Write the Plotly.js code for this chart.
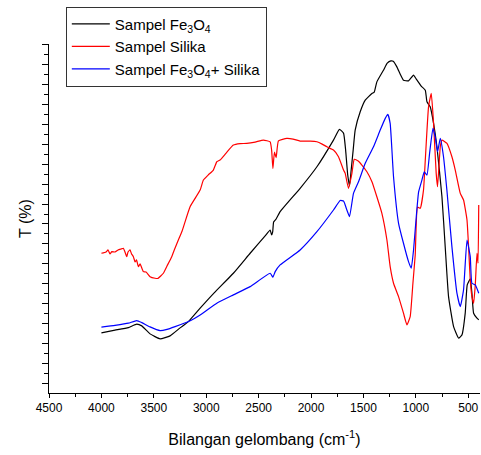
<!DOCTYPE html>
<html>
<head>
<meta charset="utf-8">
<script src="https://cdn.plot.ly/plotly-3.0.1.min.js"></script>
<style>html,body{margin:0;padding:0;background:#fff;}#chart{width:481px;height:455px;}</style>
</head>
<body>
<div id="chart"></div>
<script>
// Wavenumber (cm-1) and transmittance (arbitrary units, y axis unlabeled)
const fe3o4Wave = [4000,3870,3743,3663,3615,3536,3440,3345,3249,3170,3058,2922,2741,2581,2438,2390,2376,2366,2357,2333,2295,2104,1944,1786,1729,1690,1670,1650,1633,1617,1598,1579,1531,1483,1419,1397,1372,1309,1273,1238,1216,1181,1149,1118,1070,1022,996,977,949,910,894,863,831,799,751,720,688,640,592,560,529,510,481,465,449,417,400];
const fe3o4T = [5.2,5.47,5.73,6.07,5.9,5.1,4.6,4.9,5.7,6.33,7.67,9.23,11.17,13.17,14.9,15.5,15.0,15.3,16.3,16.6,17.33,19.67,21.83,24.5,25.57,25.2,23.5,21.0,19.9,21.5,23.5,25.5,27.33,28.5,29.17,29.3,30.33,31.5,32.2,32.43,32.4,31.83,31.1,30.5,30.43,31.0,30.6,30.33,29.9,29.5,28.33,27.83,26.17,23.83,18.83,13.83,8.83,5.83,4.67,5.0,7.17,10.0,10.6,9.17,7.17,6.67,6.5];

const silikaWave = [4000,3956,3937,3918,3901,3870,3841,3813,3791,3775,3758,3746,3727,3712,3695,3679,3665,3647,3631,3600,3574,3536,3488,3460,3409,3374,3329,3297,3266,3230,3154,3058,3027,2982,2932,2899,2868,2810,2741,2677,2613,2533,2454,2390,2376,2364,2349,2333,2311,2231,2171,2104,2008,1944,1894,1849,1786,1738,1690,1674,1643,1610,1588,1550,1515,1467,1419,1372,1324,1276,1245,1213,1165,1118,1085,1054,1028,1006,984,958,927,910,879,853,831,806,793,767,751,703,656,624,576,545,512,497,481,465,449,433,417,407,400];
const silikaT = [13.17,13.3,13.5,13.1,13.33,13.3,13.5,13.6,13.67,13.3,12.83,13.3,13.5,13.1,12.83,12.3,12.5,11.83,12.1,11.33,11.3,10.83,10.67,10.65,11.17,11.9,12.83,13.7,14.5,15.4,17.83,19.5,20.5,21.0,21.5,22.33,22.5,23.2,24.0,24.15,24.17,24.3,24.5,24.33,23.5,21.67,23.3,22.75,24.43,24.67,24.6,24.4,24.4,24.33,24.1,23.83,23.5,22.83,21.5,21.17,19.67,21.17,22.57,22.4,22.0,21.33,20.33,18.83,17.17,14.5,11.83,10.17,8.83,7.17,6.0,6.83,10.17,13.0,17.8,17.67,19.5,22.5,27.83,29.17,26.17,21.17,19.83,23.83,24.5,24.17,22.83,21.5,19.17,18.5,16.5,13.83,10.5,8.83,8.17,10.0,13.17,12.17,18.0];

const compWave = [4000,3870,3743,3663,3615,3536,3440,3374,3297,3170,3058,2899,2741,2581,2390,2364,2342,2295,2104,1944,1786,1722,1690,1658,1633,1595,1547,1483,1404,1340,1292,1267,1245,1213,1165,1118,1070,1044,1022,996,974,942,920,894,869,837,815,793,767,736,704,656,608,576,545,512,481,465,433,400];
const compT = [5.77,5.95,6.17,6.43,6.23,5.8,5.43,5.55,5.83,6.33,7.0,8.17,9.0,9.83,11.17,10.77,11.33,12.0,13.5,15.33,17.5,18.45,18.4,17.5,16.83,19.17,20.33,22.17,23.83,25.5,26.67,27.07,26.17,20.83,16.17,14.17,12.33,11.67,13.5,16.83,19.3,20.5,21.33,21.0,23.17,25.67,24.83,23.33,24.67,22.83,19.5,13.83,9.17,7.83,9.5,14.5,12.83,10.17,10.0,9.17];

const seriesNames = ["Sampel Fe<sub>3</sub>O<sub>4</sub>", "Sampel Silika", "Sampel Fe<sub>3</sub>O<sub>4</sub>+ Silika"];
const xTickVals = [4500,4000,3500,3000,2500,2000,1500,1000,500];
const xTickText = ["4500","4000","3500","3000","2500","2000","1500","1000","500"];

const font = "Liberation Sans, Arial, sans-serif";
const mk = (x, y, name, color) => ({
  x: x, y: y, name: name, type: "scatter", mode: "lines",
  line: {color: color, width: 1.2, shape: "spline", smoothing: 0.4}
});

const data = [
  mk(fe3o4Wave, fe3o4T, seriesNames[0], "#000000"),
  mk(silikaWave, silikaT, seriesNames[1], "#ff0000"),
  mk(compWave, compT, seriesNames[2], "#0000ff")
];

const layout = {
  width: 481, height: 455,
  margin: {l: 49, r: 1, t: 44, b: 62, pad: 0},
  paper_bgcolor: "#ffffff", plot_bgcolor: "#ffffff",
  font: {family: font, color: "#000000", size: 12},
  showlegend: true,
  legend: {
    x: 0.039, y: 1.107, xanchor: "left", yanchor: "top",
    bordercolor: "#333333", borderwidth: 1, bgcolor: "#ffffff",
    font: {family: font, size: 15, color: "#000000"},
    itemwidth: 38
  },
  xaxis: {
    range: [4500, 388],
    tickmode: "array", tickvals: xTickVals, ticktext: xTickText,
    ticks: "outside", ticklen: 4, tickwidth: 1, tickcolor: "#000",
    minor: {dtick: 250, tick0: 0, ticks: "outside", ticklen: 3, tickcolor: "#000", showgrid: false},
    showline: true, linecolor: "#000", linewidth: 1,
    showgrid: false, zeroline: false,
    tickfont: {family: font, size: 12, color: "#000"},
    title: {text: "Bilangan gelombang (cm<sup>-1</sup>)", font: {family: font, size: 16, color: "#000"}, standoff: 19}
  },
  yaxis: {
    range: [-0.82, 34.12],
    tick0: 0.1, dtick: 2,
    ticks: "outside", ticklen: 6, tickwidth: 1, tickcolor: "#000",
    minor: {dtick: 1, tick0: 0.1, ticks: "outside", ticklen: 4, tickcolor: "#000", showgrid: false},
    showticklabels: false,
    showline: true, linecolor: "#000", linewidth: 1,
    showgrid: false, zeroline: false,
    title: {text: "T (%)", font: {family: font, size: 16, color: "#000"}, standoff: 6}
  }
};

Plotly.newPlot("chart", data, layout, {displayModeBar: false, staticPlot: true});
</script>
</body>
</html>
